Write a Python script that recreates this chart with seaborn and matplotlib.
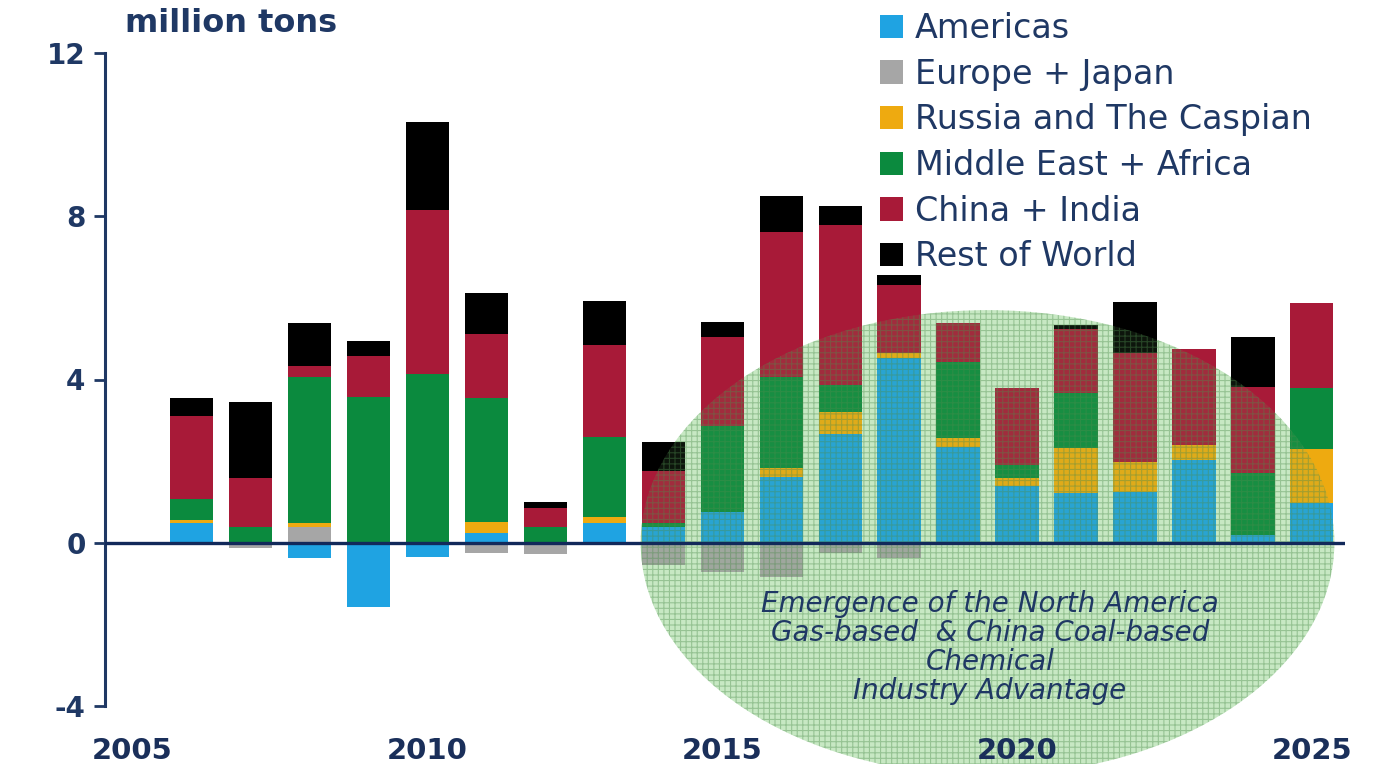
import numpy as np
import pandas as pd
import matplotlib
matplotlib.use("Agg")
import matplotlib.pyplot as plt
import seaborn as sns
from matplotlib.patches import Ellipse, Patch

# ---------------- data ----------------
years = list(range(2006, 2026))
americas       = [0.49, 0.00, -0.37, -1.57, -0.34, 0.25, 0.00, 0.49, 0.39, 0.76,
                  1.60, 2.67, 4.53, 2.35, 1.40, 1.22, 1.25, 2.03, 0.20, 0.98]
europe_japan   = [0.00, -0.12, 0.39, 0.00, 0.00, -0.25, -0.27, 0.00, -0.54, -0.72,
                  -0.83, -0.25, -0.37, 0.00, 0.00, 0.00, 0.00, 0.00, 0.00, 0.00]
russia_caspian = [0.07, 0.00, 0.10, 0.00, 0.00, 0.26, 0.00, 0.15, 0.00, 0.00,
                  0.24, 0.54, 0.13, 0.22, 0.19, 1.11, 0.74, 0.37, 0.00, 1.32]
mideast_africa = [0.52, 0.39, 3.58, 3.57, 4.14, 3.04, 0.39, 1.96, 0.10, 2.11,
                  2.23, 0.66, 0.00, 1.87, 0.32, 1.35, 0.00, 0.00, 1.52, 1.50]
china_india    = [2.03, 1.20, 0.27, 1.01, 4.02, 1.57, 0.47, 2.25, 1.28, 2.18,
                  3.55, 3.92, 1.66, 0.95, 1.89, 1.56, 2.67, 2.35, 2.10, 2.08]
rest_of_world  = [0.44, 1.87, 1.05, 0.37, 2.16, 1.01, 0.14, 1.08, 0.71, 0.37,
                  0.88, 0.47, 0.25, 0.00, 0.00, 0.10, 1.25, 0.00, 1.23, 0.00]

series_names = ["Americas", "Europe + Japan", "Russia and The Caspian",
                "Middle East + Africa", "China + India", "Rest of World"]
y_ticks = [-4, 0, 4, 8, 12]
x_ticks = [2005, 2010, 2015, 2020, 2025]
unit_label = "million tons"
note_lines = ["Emergence of the North America",
              "Gas-based  & China Coal-based",
              "Chemical",
              "Industry Advantage"]

# ---------------- style ----------------
colors = ["#1fa3e2", "#a6a6a6", "#eeaa10", "#0b8a3e", "#a81a38", "#000000"]
navy = "#1f3864"

sns.set_theme(style="white")
plt.rcParams['font.family'] = ['DejaVu Sans']
plt.rcParams['hatch.linewidth'] = 0.8

W, H = 1389, 764
fig = plt.figure(figsize=(W / 100, H / 100), dpi=100)
ax = fig.add_axes([105 / W, 1 - 706 / H, (1345 - 105) / W, (706 - 53) / H])
ax.set_axisbelow(False)

all_series = [americas, europe_japan, russia_caspian, mideast_africa,
              china_india, rest_of_world]

pos_base = np.zeros(len(years))
neg_base = np.zeros(len(years))
for name, vals, col in zip(series_names, all_series, colors):
    v = np.asarray(vals, dtype=float)
    bottom = np.where(v >= 0, pos_base, neg_base)
    df = pd.DataFrame({"year": years, "value": v})
    sns.barplot(data=df, x="year", y="value", bottom=bottom, native_scale=True,
                color=col, saturation=1, width=0.73, errorbar=None,
                linewidth=0, ax=ax, zorder=1.2)
    pos_base += np.where(v > 0, v, 0)
    neg_base += np.where(v < 0, v, 0)

ax.set_xlim(2004.54, 2025.56)
ax.set_ylim(-4, 12)
ax.set_xticks(x_ticks)
ax.set_xticklabels([str(t) for t in x_ticks])
ax.set_yticks(y_ticks)
ax.set_yticklabels([str(t) for t in y_ticks])
ax.set_xlabel("")
ax.set_ylabel("")

for s in ["top", "right", "bottom"]:
    ax.spines[s].set_visible(False)
ax.spines["left"].set_color(navy)
ax.spines["left"].set_linewidth(2.2)
ax.axhline(0, color="#12295a", lw=2.4, zorder=2.6)

ax.tick_params(axis="y", direction="out", length=8, width=2, color=navy,
               labelsize=20, labelcolor=navy, pad=6, left=True)
ax.tick_params(axis="x", length=0, labelsize=21, labelcolor="#1a2f5a", pad=22)
for lab in ax.get_yticklabels() + ax.get_xticklabels():
    lab.set_fontweight("bold")

# highlighted region: light green base behind bars + grid overlay on top
ell_base = Ellipse((2019.5, 0.0), width=11.76, height=11.4,
                   facecolor="#d3f0d1", edgecolor="none", linewidth=0,
                   zorder=1.0, clip_on=False)
ax.add_patch(ell_base)
ell_grid = Ellipse((2019.5, 0.0), width=11.76, height=11.4,
                   facecolor=(0.45, 0.70, 0.40, 0.12), edgecolor=(0.30, 0.55, 0.30, 0.40),
                   hatch="+++", linewidth=0, zorder=1.4, clip_on=False)
ax.add_patch(ell_grid)

ax.text(2019.54, -2.57, "\n".join(note_lines), ha="center", va="center",
        style="italic", color=navy, fontsize=20, linespacing=1.05,
        zorder=5, clip_on=False)

handles = [Patch(facecolor=c, edgecolor="none") for c in colors]
fig.legend(handles, series_names, loc="upper left",
           bbox_to_anchor=(880 / W, 1 - 12 / H), frameon=False, fontsize=24,
           labelcolor=navy, handlelength=0.7, handleheight=0.7,
           handletextpad=0.35, labelspacing=0.38, borderpad=0, borderaxespad=0)

fig.text(125 / W, 1 - 24 / H, unit_label, fontsize=23, fontweight="bold",
         color=navy, ha="left", va="center")

fig.savefig("out.png", dpi=100)
